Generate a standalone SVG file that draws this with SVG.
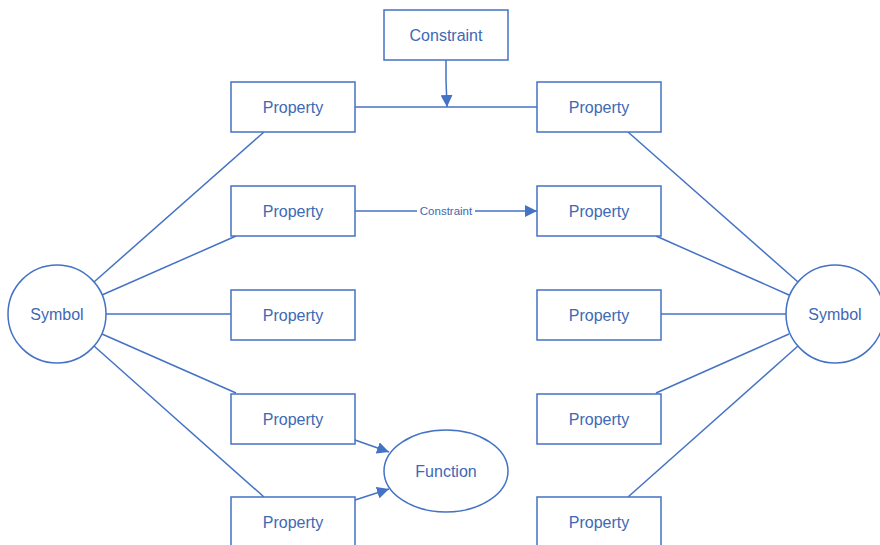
<svg xmlns="http://www.w3.org/2000/svg" width="880" height="545" viewBox="0 0 880 545">
<style>
.n{fill:#fff;stroke:#4472C4;stroke-width:1.5}
.t{font-family:"Liberation Sans",Arial,sans-serif;font-size:16px;fill:#4068B4;text-anchor:middle;dominant-baseline:central}
.c{stroke:#4472C4;stroke-width:1.5;fill:none}
.s{font-family:"Liberation Sans",Arial,sans-serif;font-size:11.5px;fill:#4068B4;text-anchor:middle;dominant-baseline:central}
</style>
<defs>
<marker id="b" viewBox="0 0 10 10" refX="10" refY="5" markerWidth="12" markerHeight="12" markerUnits="userSpaceOnUse" orient="auto"><path d="M0,0L10,5L0,10z" fill="#4472C4"/></marker>
</defs>
<g id="connectors">
<line class="c" x1="94" y1="282" x2="264" y2="132"/>
<line class="c" x1="102" y1="295" x2="236" y2="236"/>
<line class="c" x1="106" y1="314" x2="231" y2="314"/>
<line class="c" x1="102" y1="334" x2="236" y2="393"/>
<line class="c" x1="94" y1="346" x2="264" y2="497"/>
<line class="c" x1="628" y1="132" x2="798" y2="282"/>
<line class="c" x1="656" y1="236" x2="789" y2="295"/>
<line class="c" x1="661" y1="314" x2="786" y2="314"/>
<line class="c" x1="656" y1="393" x2="789" y2="334"/>
<line class="c" x1="628" y1="497" x2="798" y2="346"/>
<line class="c" x1="355" y1="107" x2="537" y2="107"/>
<path class="c" d="M446,60 L446,80 L447,107" marker-end="url(#b)"/>
<line class="c" x1="355" y1="211" x2="537" y2="211" marker-end="url(#b)"/>
<rect x="417" y="203" width="58" height="16" fill="#fff"/>
<text class="s" x="446" y="211">Constraint</text>
<line class="c" x1="355" y1="440" x2="389" y2="452" marker-end="url(#b)"/>
<line class="c" x1="355" y1="500" x2="389" y2="489" marker-end="url(#b)"/>
</g>
<g id="constraint"><rect class="n" x="384" y="10" width="124" height="50"/><text class="t" x="446" y="35">Constraint</text></g>
<g id="symbol-left"><circle class="n" cx="57" cy="314" r="49"/><text class="t" x="57" y="314">Symbol</text></g>
<g id="symbol-right"><circle class="n" cx="835" cy="314" r="49"/><text class="t" x="835" y="314">Symbol</text></g>
<g id="function"><ellipse class="n" cx="446" cy="471" rx="62" ry="41"/><text class="t" x="446" y="471">Function</text></g>
<g id="pl1"><rect class="n" x="231" y="82" width="124" height="50"/><text class="t" x="293" y="107">Property</text></g>
<g id="pl2"><rect class="n" x="231" y="186" width="124" height="50"/><text class="t" x="293" y="211">Property</text></g>
<g id="pl3"><rect class="n" x="231" y="290" width="124" height="50"/><text class="t" x="293" y="315">Property</text></g>
<g id="pl4"><rect class="n" x="231" y="394" width="124" height="50"/><text class="t" x="293" y="419">Property</text></g>
<g id="pl5"><rect class="n" x="231" y="497" width="124" height="50"/><text class="t" x="293" y="522">Property</text></g>
<g id="pr1"><rect class="n" x="537" y="82" width="124" height="50"/><text class="t" x="599" y="107">Property</text></g>
<g id="pr2"><rect class="n" x="537" y="186" width="124" height="50"/><text class="t" x="599" y="211">Property</text></g>
<g id="pr3"><rect class="n" x="537" y="290" width="124" height="50"/><text class="t" x="599" y="315">Property</text></g>
<g id="pr4"><rect class="n" x="537" y="394" width="124" height="50"/><text class="t" x="599" y="419">Property</text></g>
<g id="pr5"><rect class="n" x="537" y="497" width="124" height="50"/><text class="t" x="599" y="522">Property</text></g>
</svg>
